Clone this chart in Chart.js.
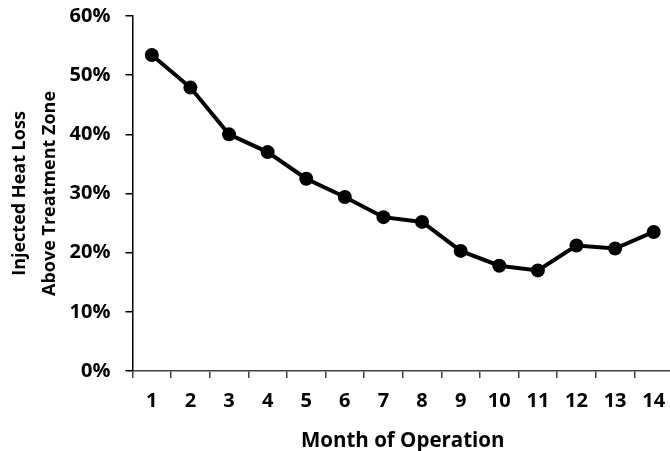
<!DOCTYPE html>
<html>
<head>
<meta charset="utf-8">
<script src="https://cdn.jsdelivr.net/npm/chart.js@4/dist/chart.umd.min.js"></script>
<style>
  html, body { margin: 0; padding: 0; background: #fff; overflow: hidden; }
  #wrap { position: relative; width: 670px; height: 451px; overflow: hidden; }
  #c { position: absolute; left: 0; top: -11px; }
</style>
</head>
<body>
<div id="wrap"><canvas id="c" width="680" height="464"></canvas></div>
<script>
// Months of operation
const months = ['1','2','3','4','5','6','7','8','9','10','11','12','13','14'];
// Injected heat loss above the treatment zone, percent
const heatLoss = [53.4, 47.9, 40.0, 37.0, 32.5, 29.4, 26.0, 25.2, 20.3, 17.8, 17.0, 21.2, 20.7, 23.5];
// Y axis range and step, percent
const yTicks = { min: 0, max: 60, step: 10 };

const FONT = '"Open Sans", "Liberation Sans", sans-serif';

new Chart(document.getElementById('c'), {
  type: 'line',
  data: {
    labels: months,
    datasets: [{
      data: heatLoss,
      borderColor: '#000',
      backgroundColor: '#000',
      borderWidth: 4,
      pointRadius: 7,
      pointHoverRadius: 7,
      pointBackgroundColor: '#000',
      pointBorderWidth: 0,
      tension: 0
    }]
  },
  options: {
    responsive: false,
    animation: false,
    events: [],
    layout: { padding: { top: 4, right: 3, left: 0, bottom: 0 } },
    plugins: { legend: { display: false }, tooltip: { enabled: false } },
    scales: {
      x: {
        offset: true,
        grid: { offset: true, drawOnChartArea: false, drawTicks: true, tickLength: 7, color: '#404040', lineWidth: 1.5 },
        border: { color: '#404040', width: 1.5 },
        ticks: { color: '#000', font: { family: FONT, size: 20, weight: 'bold' }, padding: 11, maxRotation: 0 },
        title: { display: true, text: 'Month of Operation', color: '#000', font: { family: FONT, size: 20.5, weight: 'bold' }, padding: { top: 7, bottom: 0 } },
        afterFit: s => { s.height = 82; }
      },
      y: {
        min: yTicks.min,
        max: yTicks.max,
        grid: { drawOnChartArea: false, drawTicks: true, tickLength: 7, color: '#000', lineWidth: 1.5 },
        border: { color: '#000', width: 1.5 },
        ticks: { stepSize: yTicks.step, color: '#000', font: { family: FONT, size: 20, weight: 'bold' }, padding: 15,
                 callback: v => v + '%' },
        title: { display: true, text: ['Injected Heat Loss', 'Above Treatment Zone'], color: '#000',
                 font: { family: FONT, size: 18, weight: 'bold', lineHeight: 1.67 }, padding: { top: 5, bottom: 0 } },
        afterFit: s => { s.width = 132.5; }
      }
    }
  }
});
</script>
</body>
</html>
